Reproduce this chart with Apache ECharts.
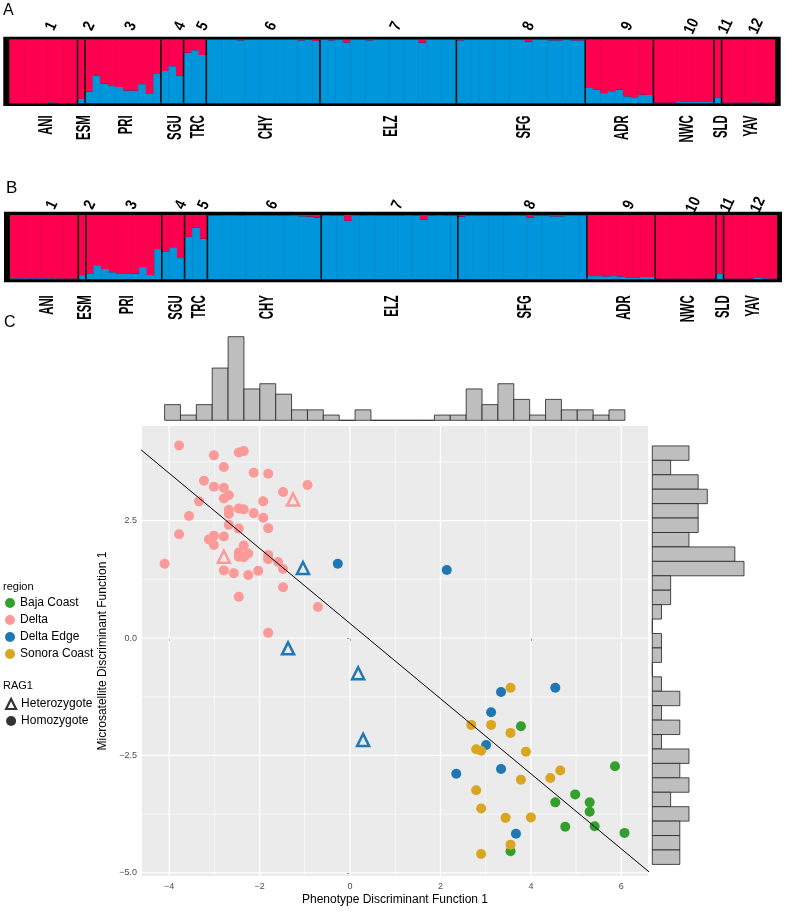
<!DOCTYPE html>
<html><head><meta charset="utf-8">
<script src="https://cdn.jsdelivr.net/npm/echarts@6/dist/echarts.min.js"></script>
<style>html,body{margin:0;padding:0;background:#fff}#c{width:785px;height:913px}</style>
</head><body><div id="c"></div>
<script>
// ---------- STRUCTURE panels (A, B) ----------
const populations = ['ANI','ESM','PRI','SGU','TRC','CHY','ELZ','SFG','ADR','NWC','SLD','YAV'];
const popNumbers = ['1','2','3','4','5','6','7','8','9','10','11','12'];
const popSizes = [9,1,10,3,3,15,18,17,9,8,1,7];
// blue (cluster 2) membership per individual; red = 1 - blue
const structureA = [
 0.005,0.005,0.005,0.005,0.005,0.015,0.005,0.005,0.005,
 0.07,
 0.18,0.43,0.31,0.27,0.255,0.20,0.20,0.30,0.146,0.47,
 0.505,0.58,0.43,
 0.79,0.83,0.755,
 0.99,0.99,0.99,0.99,0.985,0.99,0.99,0.99,0.99,0.99,0.99,0.99,0.985,0.99,0.975,
 0.99,0.985,0.99,0.953,0.99,0.99,0.985,0.99,0.99,0.99,0.99,0.99,0.99,0.95,0.99,0.99,0.99,0.99,
 0.985,0.99,0.99,0.99,0.99,0.99,0.99,0.99,0.99,0.965,0.99,0.99,0.985,0.985,0.99,0.985,0.985,
 0.24,0.21,0.16,0.19,0.215,0.11,0.095,0.137,0.13,
 0.01,0.01,0.01,0.02,0.02,0.02,0.02,0.02,
 0.084,
 0.01,0.01,0.01,0.01,0.015,0.01,0.01
];
const structureB = [
 0.015,0.015,0.015,0.015,0.015,0.015,0.012,0.012,0.012,
 0.065,
 0.083,0.22,0.16,0.11,0.093,0.093,0.088,0.19,0.067,0.47,
 0.435,0.50,0.33,
 0.66,0.80,0.63,
 0.99,0.99,0.985,0.985,0.99,0.985,0.985,0.99,0.99,0.99,0.99,0.985,0.98,0.975,0.96,
 0.985,0.99,0.99,0.91,0.985,0.99,0.985,0.99,0.99,0.99,0.99,0.985,0.99,0.93,0.99,0.985,0.99,0.99,
 0.975,0.99,0.99,0.99,0.99,0.99,0.99,0.985,0.99,0.955,0.99,0.99,0.98,0.98,0.985,0.985,0.985,
 0.05,0.05,0.045,0.05,0.045,0.03,0.03,0.035,0.035,
 0.01,0.01,0.01,0.01,0.01,0.01,0.01,0.01,
 0.083,
 0.01,0.01,0.01,0.01,0.02,0.015,0.01
];

// ---------- Panel C scatter ----------
const regions = ['Baja Coast','Delta','Delta Edge','Sonora Coast'];
const regionColors = ['#33A02C','#FB9A99','#1F78B4','#DAA520'];
const bajaHomo = [[3.78,-1.88],[5.86,-2.73],[4.98,-3.33],[4.54,-3.50],[5.30,-3.50],[5.30,-3.70],[4.76,-4.02],[5.41,-4.01],[6.07,-4.15],[3.55,-4.54]];
const bajaHet = [];
const deltaHomo = [[-3.78,4.10],[-3.01,3.89],[-2.46,3.95],[-2.35,3.98],[-2.79,3.64],[-2.13,3.52],[-1.81,3.50],[-3.23,3.35],[-3.01,3.22],[-2.79,3.20],[-1.48,3.11],[-0.94,3.26],[-2.68,3.04],[-2.79,2.97],[-3.34,2.91],[-1.92,2.91],[-2.46,2.76],[-2.35,2.74],[-2.68,2.73],[-2.68,2.64],[-2.13,2.66],[-3.56,2.60],[-1.92,2.56],[-2.68,2.41],[-2.46,2.33],[-1.81,2.34],[-3.78,2.21],[-3.01,2.18],[-2.79,2.16],[-3.12,2.10],[-3.01,1.98],[-2.35,1.97],[-2.46,1.82],[-2.25,1.80],[-2.46,1.73],[-2.35,1.72],[-1.81,1.77],[-1.81,1.68],[-1.59,1.62],[-1.48,1.47],[-4.10,1.58],[-2.79,1.44],[-2.57,1.38],[-2.25,1.34],[-2.03,1.43],[-1.48,1.08],[-2.46,0.88],[-0.71,0.66],[-1.81,0.11]];
const deltaHet = [[-1.26,2.95],[-2.79,1.73]];
const edgeHomo = [[-0.27,1.58],[2.14,1.45],[3.34,-1.15],[4.54,-1.06],[3.12,-1.58],[3.01,-2.28],[2.35,-2.89],[3.34,-2.79],[3.67,-4.17]];
const edgeHet = [[-1.04,1.49],[-1.37,-0.22],[0.18,-0.75],[0.29,-2.17]];
const sonoraHomo = [[3.55,-1.06],[2.68,-1.85],[3.12,-1.85],[3.55,-2.02],[2.79,-2.37],[2.90,-2.40],[3.89,-2.42],[4.65,-2.82],[4.43,-2.98],[3.78,-3.02],[2.79,-3.24],[2.90,-3.63],[3.44,-3.83],[4.00,-3.82],[3.55,-4.40],[2.90,-4.60]];
const sonoraHet = [];
const regressionLine = [[-4.70,4.07],[6.70,-5.05]];

const xTicks = [-4,-2,0,2,4,6];
const xMinor = [-3,-1,1,3,5];
const yTicks = [-5,-2.5,0,2.5];
const yMinor = [-3.75,-1.25,1.25,3.75];

// marginal histograms
const histXStart = -4.10, histXBinWidth = 0.351;
const histXCounts = [3,1,3,10,16,6,7,5,2,2,1,0,2,0,0,0,0,1,1,6,3,7,4,1,4,2,2,1,2];
const histYTop = 4.10, histYBinWidth = 0.3007;
const histYCounts = [4,2,5,6,5,5,4,9,10,2,2,1,0,1,1,0,1,3,1,3,1,4,3,4,2,4,3,3,3];

// ---------- build ----------
const RED = '#FF0050', BLUE = '#0096DC';
const FONT = '"Liberation Sans", Arial, Helvetica, sans-serif';
const popStarts = []; let acc = 0; popSizes.forEach(n => { popStarts.push(acc); acc += n; });
const nInd = acc;
const popCenters = popSizes.map((n, i) => popStarts[i] + n / 2);
const boundaries = popStarts.slice(1);

function structureBars(values, gi) {
  return { type: 'custom', xAxisIndex: gi, yAxisIndex: gi, silent: true, z: 2,
    data: values.map((v, i) => [i, v]),
    renderItem: (p, api) => {
      const i = api.value(0), b = api.value(1);
      const a = api.coord([i, 0]), c = api.coord([i + 1, 1]), m = api.coord([i, b]);
      const w = c[0] - a[0] + 0.4;
      return { type: 'group', children: [
        { type: 'rect', shape: { x: a[0], y: m[1], width: w, height: a[1] - m[1] }, style: { fill: BLUE } },
        { type: 'rect', shape: { x: a[0], y: c[1], width: w, height: m[1] - c[1] }, style: { fill: RED } }
      ]};
    }};
}
function structureSeps(gi) {
  return { type: 'custom', xAxisIndex: gi, yAxisIndex: gi, silent: true, z: 3,
    data: boundaries.map(b => [b, 0]),
    renderItem: (p, api) => {
      const t = api.coord([api.value(0), 1]), b = api.coord([api.value(0), 0]);
      return { type: 'line', shape: { x1: t[0], y1: t[1], x2: b[0], y2: b[1] }, style: { stroke: '#111', lineWidth: 1.6 } };
    }};
}
function structureNames(gi, off) {
  return { type: 'custom', xAxisIndex: gi, yAxisIndex: gi, silent: true, z: 3,
    data: popCenters.map(c => [c, 0]),
    renderItem: (p, api) => {
      const pt = api.coord([api.value(0), 0]);
      return { type: 'text', x: pt[0] + 3, y: pt[1] + off, rotation: Math.PI / 2, scaleX: 0.54,
        style: { text: populations[p.dataIndex], font: 'bold 21px ' + FONT, fill: '#000',
          align: 'right', textAlign: 'right', verticalAlign: 'middle', textVerticalAlign: 'middle' } };
    }};
}
function structureNums(gi, off) {
  return { type: 'custom', xAxisIndex: gi, yAxisIndex: gi, silent: true, z: 3,
    data: popCenters.map(c => [c, 1]),
    renderItem: (p, api) => {
      const pt = api.coord([api.value(0), 1]);
      return { type: 'text', x: pt[0] + 8, y: pt[1] - off, rotation: Math.PI * 0.36, scaleX: 0.85,
        style: { text: popNumbers[p.dataIndex], font: 'bold 16px ' + FONT, fill: '#000',
          align: 'center', textAlign: 'center', verticalAlign: 'middle', textVerticalAlign: 'middle' } };
    }};
}
function gridLines(vals, vertical, width) {
  return { type: 'custom', xAxisIndex: 2, yAxisIndex: 2, silent: true, z: 1,
    data: vals.map(v => vertical ? [v, 0] : [0, v]),
    renderItem: (p, api) => {
      const cs = p.coordSys;
      if (vertical) {
        const x = api.coord([api.value(0), 0])[0];
        return { type: 'line', shape: { x1: x, y1: cs.y, x2: x, y2: cs.y + cs.height }, style: { stroke: '#fff', lineWidth: width } };
      }
      const y = api.coord([0, api.value(1)])[1];
      return { type: 'line', shape: { x1: cs.x, y1: y, x2: cs.x + cs.width, y2: y }, style: { stroke: '#fff', lineWidth: width } };
    }};
}
function pts(homo, het, color) {
  return homo.map(v => ({ value: v })).concat(het.map(v => ({ value: v, symbol: 'triangle', symbolSize: 12,
    itemStyle: { color: 'rgba(0,0,0,0)', borderColor: color, borderWidth: 2.5 } })));
}
const fmt = d => v => (v < 0 ? '\u2212' : '') + Math.abs(v).toFixed(d);
const hidden = { show: false };

const option = {
  animation: false,
  backgroundColor: '#fff',
  textStyle: { fontFamily: FONT },
  title: [
    { text: 'A', left: 3, top: 3, padding: 0, textStyle: { fontSize: 16, fontWeight: 'normal', color: '#000', fontFamily: FONT } },
    { text: 'B', left: 6, top: 180, padding: 0, textStyle: { fontSize: 17, fontWeight: 'normal', color: '#000', fontFamily: FONT } },
    { text: 'C', left: 4, top: 315, padding: 0, textStyle: { fontSize: 16, fontWeight: 'normal', color: '#000', fontFamily: FONT } },
    { text: 'region', left: 3, top: 581, padding: 0, textStyle: { fontSize: 11, fontWeight: 'normal', color: '#000', fontFamily: FONT } },
    { text: 'RAG1', left: 3, top: 680, padding: 0, textStyle: { fontSize: 11, fontWeight: 'normal', color: '#000', fontFamily: FONT } }
  ],
  legend: [
    { data: regions, orient: 'vertical', left: 5, top: 596, padding: 0, itemWidth: 10, itemHeight: 10, itemGap: 3,
      icon: 'circle', selectedMode: false, textStyle: { fontSize: 12, color: '#000', lineHeight: 14, fontFamily: FONT } },
    { data: [
        { name: 'Heterozygote', icon: 'triangle', itemStyle: { color: 'rgba(0,0,0,0)', borderColor: '#000', borderWidth: 2.2 } },
        { name: 'Homozygote', icon: 'circle', itemStyle: { color: '#000' } }],
      orient: 'vertical', left: 5, top: 697, padding: 0, itemWidth: 10, itemHeight: 10, itemGap: 3, selectedMode: false,
      textStyle: { fontSize: 12, color: '#000', lineHeight: 14, fontFamily: FONT } }
  ],
  grid: [
    { left: 3.3, top: 36.7, width: 777.4, height: 69.3, show: true, backgroundColor: '#000', borderWidth: 0 },
    { left: 4, top: 211.7, width: 778, height: 70.6, show: true, backgroundColor: '#000', borderWidth: 0 },
    { left: 142, top: 426, width: 506, height: 460, show: true, backgroundColor: '#EBEBEB', borderWidth: 0 },
    { left: 142, top: 336.7, width: 506, height: 83.6 },
    { left: 652.3, top: 426, width: 91.7, height: 460 }
  ],
  xAxis: [
    { type: 'value', gridIndex: 0, min: -0.79, max: nInd + 0.8, show: false },
    { type: 'value', gridIndex: 1, min: -0.79, max: nInd + 0.7, show: false },
    { type: 'value', gridIndex: 2, min: -4.6, max: 6.59,
      axisLine: hidden, splitLine: hidden,
      axisTick: { show: true, length: 3, lineStyle: { color: '#333' }, customValues: xTicks },
      axisLabel: { customValues: xTicks, formatter: fmt(0), fontSize: 9, color: '#4D4D4D', margin: 6, fontFamily: FONT },
      name: 'Phenotype Discriminant Function 1', nameLocation: 'middle', nameGap: 18,
      nameTextStyle: { fontSize: 12, color: '#000', fontFamily: FONT } },
    { type: 'value', gridIndex: 3, min: -4.6, max: 6.59, show: false },
    { type: 'value', gridIndex: 4, min: 0, max: 10, show: false }
  ],
  yAxis: [
    { type: 'value', gridIndex: 0, min: -0.042, max: 1.041, show: false },
    { type: 'value', gridIndex: 1, min: -0.047, max: 1.051, show: false },
    { type: 'value', gridIndex: 2, min: -5.07, max: 4.515,
      axisLine: hidden, splitLine: hidden,
      axisTick: { show: true, length: 3, lineStyle: { color: '#333' }, customValues: yTicks },
      axisLabel: { customValues: yTicks, formatter: fmt(1), fontSize: 9, color: '#4D4D4D', margin: 5, fontFamily: FONT },
      name: 'Microsatellite Discriminant Function 1', nameLocation: 'middle', nameGap: 18,
      nameTextStyle: { fontSize: 12, color: '#000', fontFamily: FONT } },
    { type: 'value', gridIndex: 3, min: 0, max: 16, show: false },
    { type: 'value', gridIndex: 4, min: -5.07, max: 4.515, show: false }
  ],
  series: [
    structureBars(structureA, 0), structureSeps(0), structureNames(0, 12), structureNums(0, 13),
    structureBars(structureB, 1), structureSeps(1), structureNames(1, 16), structureNums(1, 10),
    gridLines(xMinor, true, 0.6), gridLines(yMinor, false, 0.6),
    gridLines(xTicks, true, 1.2), gridLines(yTicks, false, 1.2),
    { name: 'Baja Coast', type: 'scatter', xAxisIndex: 2, yAxisIndex: 2, z: 2, symbol: 'circle', symbolSize: 10,
      itemStyle: { color: regionColors[0], opacity: 1 }, data: pts(bajaHomo, bajaHet, regionColors[0]) },
    { name: 'Delta', type: 'scatter', xAxisIndex: 2, yAxisIndex: 2, z: 2, symbol: 'circle', symbolSize: 10,
      itemStyle: { color: regionColors[1], opacity: 1 }, data: pts(deltaHomo, deltaHet, regionColors[1]) },
    { name: 'Delta Edge', type: 'scatter', xAxisIndex: 2, yAxisIndex: 2, z: 2, symbol: 'circle', symbolSize: 10,
      itemStyle: { color: regionColors[2], opacity: 1 }, data: pts(edgeHomo, edgeHet, regionColors[2]) },
    { name: 'Sonora Coast', type: 'scatter', xAxisIndex: 2, yAxisIndex: 2, z: 2, symbol: 'circle', symbolSize: 10,
      itemStyle: { color: regionColors[3], opacity: 1 }, data: pts(sonoraHomo, sonoraHet, regionColors[3]) },
    { name: 'Heterozygote', type: 'scatter', xAxisIndex: 2, yAxisIndex: 2, symbol: 'triangle', data: [],
      itemStyle: { color: 'rgba(0,0,0,0)', borderColor: '#000', borderWidth: 2.2 } },
    { name: 'Homozygote', type: 'scatter', xAxisIndex: 2, yAxisIndex: 2, symbol: 'circle', data: [], itemStyle: { color: '#000' } },
    { type: 'line', xAxisIndex: 2, yAxisIndex: 2, z: 4, data: regressionLine, showSymbol: false, symbol: 'none', clip: true,
      silent: true, lineStyle: { color: '#000', width: 1 } },
    { type: 'custom', xAxisIndex: 3, yAxisIndex: 3, silent: true,
      data: histXCounts.map((c, i) => [histXStart + i * histXBinWidth, c]),
      renderItem: (p, api) => {
        const x0 = api.value(0), c = api.value(1);
        const a = api.coord([x0, 0]), b = api.coord([x0 + histXBinWidth, c]);
        return { type: 'rect', shape: { x: a[0], y: b[1], width: b[0] - a[0], height: a[1] - b[1] },
          style: { fill: '#BEBEBE', stroke: '#222', lineWidth: 0.8 } };
      } },
    { type: 'custom', xAxisIndex: 4, yAxisIndex: 4, silent: true,
      data: histYCounts.map((c, i) => [c, histYTop - i * histYBinWidth]),
      renderItem: (p, api) => {
        const c = api.value(0), y0 = api.value(1);
        const a = api.coord([0, y0]), b = api.coord([c, y0 - histYBinWidth]);
        return { type: 'rect', shape: { x: a[0], y: a[1], width: b[0] - a[0], height: b[1] - a[1] },
          style: { fill: '#BEBEBE', stroke: '#222', lineWidth: 0.8 } };
      } }
  ]
};
const chart = echarts.init(document.getElementById('c'), null, { renderer: 'canvas' });
chart.setOption(option);
</script></body></html>
